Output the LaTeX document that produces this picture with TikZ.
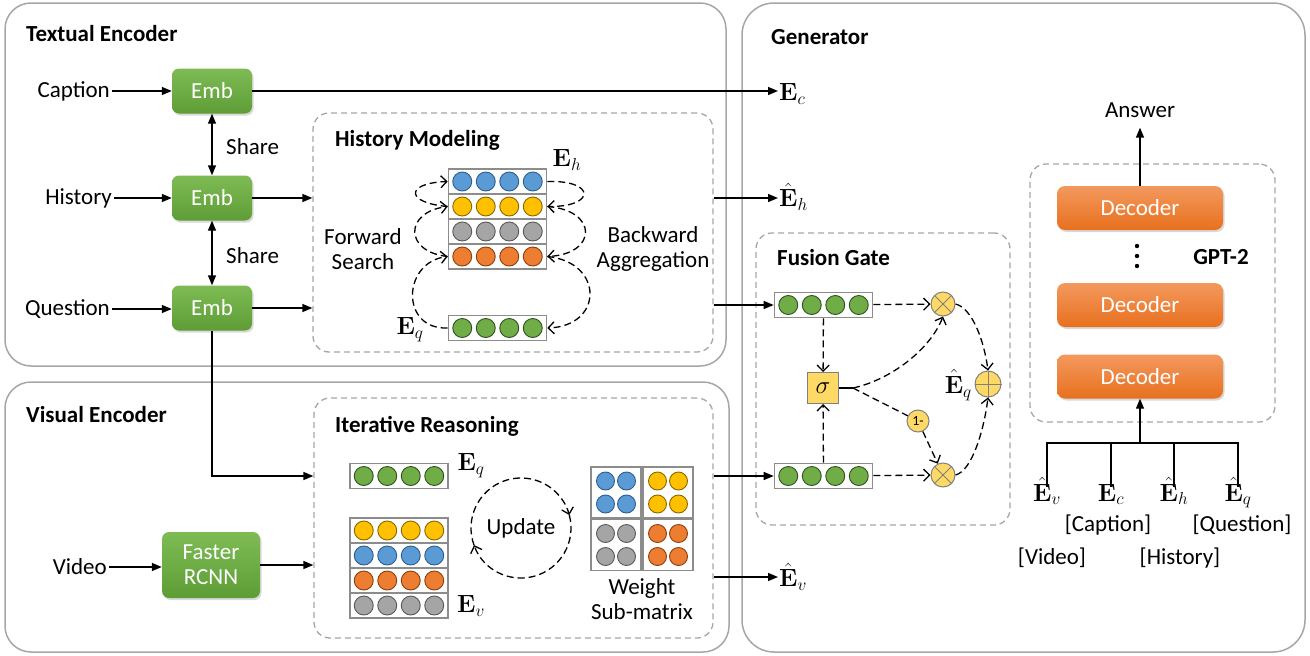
\documentclass[tikz,border=0pt]{standalone}
\usepackage[no-math]{fontspec}
\setmainfont{Carlito}
\usetikzlibrary{arrows.meta,shadows,calc}
\definecolor{pgray}{HTML}{A6A6A6}
\definecolor{rgray}{HTML}{8C8C8C}
\definecolor{embtop}{HTML}{7EBB55}
\definecolor{embbot}{HTML}{5E9D35}
\definecolor{dectop}{HTML}{F3995E}
\definecolor{decbot}{HTML}{E8701E}
\definecolor{bluef}{HTML}{5B9BD5}\definecolor{blued}{HTML}{2F5F8F}
\definecolor{yelf}{HTML}{FFC000}\definecolor{yeld}{HTML}{8A6A00}
\definecolor{gryf}{HTML}{A5A5A5}\definecolor{gryd}{HTML}{5A5A5A}
\definecolor{orgf}{HTML}{ED7D31}\definecolor{orgd}{HTML}{8E3F0E}
\definecolor{grnf}{HTML}{70AD47}\definecolor{grnd}{HTML}{2F5320}
\definecolor{gatef}{HTML}{FFD966}
\tikzset{
  txt/.style={font=\fontsize{23}{27}\selectfont, inner sep=2pt},
  ttl/.style={font=\fontsize{23}{27}\selectfont\bfseries, anchor=west, inner sep=0pt},
  mlab/.style={font=\fontsize{25}{28}\selectfont, inner sep=1pt},
  panel/.style={draw=pgray, line width=1.5pt, rounded corners=26pt},
  dbox/.style={draw=pgray, dash pattern=on 6pt off 4pt, line width=1.3pt, rounded corners=16pt},
  embbox/.style={rounded corners=7pt, top color=embtop, bottom color=embbot, draw=none, text=white,
    font=\fontsize{23}{26}\selectfont, align=center,
    drop shadow={opacity=0.3, shadow xshift=1.5pt, shadow yshift=-2pt}},
  decbox/.style={rounded corners=8pt, top color=dectop, bottom color=decbot, draw=none, text=white,
    font=\fontsize{23}{26}\selectfont, minimum width=166pt, minimum height=44pt,
    drop shadow={opacity=0.3, shadow xshift=1.5pt, shadow yshift=-2pt}},
  rowbox/.style={draw=rgray, line width=1.6pt, fill=white, minimum width=98pt, minimum height=25pt, inner sep=0pt},
  dot/.style={circle, minimum size=19pt, inner sep=0pt, line width=0.9pt},
  gcirc/.style={circle, fill=gatef, draw=gray, line width=1pt, inner sep=0pt},
  arr/.style={line width=1.4pt, -{Triangle[length=10pt,width=8pt]}},
  arrr/.style={line width=1.4pt, {Triangle[length=10pt,width=8pt]}-{Triangle[length=10pt,width=8pt]}},
  sline/.style={line width=1.4pt},
  dl/.style={line width=1.3pt, dash pattern=on 7pt off 4pt},
  darr/.style={dl, -{Straight Barb[length=6pt,width=12pt,line width=1.3pt]}},
}
\newcommand\vrow[4]{%
  \node[rowbox] (#1) at (#2,#3) {};
  \foreach \k/\n in {-1.5/a,-0.5/b,0.5/c,1.5/d}
    \node[dot, fill=#4f, draw=#4d] (#1\n) at ($(#1)+(\k*23.5,0)$) {};
}
\newcommand\wblock[4]{%
  \node[rowbox, minimum width=50pt, minimum height=51pt] (#1) at (#2,#3) {};
  \foreach \dx/\dy/\n in {-1/-1/a,1/-1/b,-1/1/c,1/1/d}
    \node[dot, minimum size=18pt, fill=#4f, draw=#4d] (#1\n) at ($(#1)+(\dx*10.5,\dy*11.5)$) {};
}
\begin{document}
\begin{tikzpicture}[x=1pt,y=-1pt]
\useasboundingbox (0,0) rectangle (1310,656);
% panels
\node[panel, minimum width=721pt, minimum height=363pt] (te) at (365.5,184.5) {};
\node[panel, minimum width=724pt, minimum height=270pt] (ve) at (367,517) {};
\node[panel, minimum width=563pt, minimum height=649pt, rounded corners=32pt] (ge) at (1023.5,327.5) {};
\node[ttl] (tte) at (26,34) {Textual Encoder};
\node[ttl] (tve) at (26,415) {Visual Encoder};
\node[ttl] (tge) at (771,37) {Generator};
% dashed sub-boxes
\node[dbox, minimum width=400pt, minimum height=239pt] (hm) at (513,232.5) {};
\node[dbox, minimum width=399pt, minimum height=240pt] (ir) at (513.5,518) {};
\node[dbox, minimum width=254pt, minimum height=292pt] (fg) at (883,379) {};
\node[dbox, minimum width=245pt, minimum height=258pt] (gpt) at (1152.5,293) {};
\node[ttl] (thm) at (335,140) {History Modeling};
\node[ttl] (tir) at (335,426) {Iterative Reasoning};
\node[ttl] (tfg) at (777,258) {Fusion Gate};
\node[ttl, anchor=center] (tgpt) at (1221,257) {GPT-2};
% textual encoder
\node[embbox, minimum width=80pt, minimum height=45pt] (emb1) at (212,91) {Emb};
\node[embbox, minimum width=80pt, minimum height=45pt] (emb2) at (212,198) {Emb};
\node[embbox, minimum width=80pt, minimum height=45pt] (emb3) at (212,308) {Emb};
\node[txt, anchor=east] (cap) at (112,91) {Caption};
\node[txt, anchor=east] (his) at (114,198) {History};
\node[txt, anchor=east] (que) at (112,309) {Question};
\draw[arr] (cap) -- (cap -| emb1.west);
\draw[arr] (his) -- (his -| emb2.west);
\draw[arr] (que) -- (que -| emb3.west);
\draw[arrr] (emb1) -- (emb2);
\draw[arrr] (emb2) -- (emb3);
\node[txt, anchor=west] (sh1) at (224,147) {Share};
\node[txt, anchor=west] (sh2) at (224,256) {Share};
% outputs
\node[mlab, anchor=west] (Ec) at (778,94) {$\mathbf{E}_c$};
\node[mlab, anchor=west] (Eh) at (778,197) {$\hat{\mathbf{E}}_h$};
\node[mlab, anchor=west] (Ev) at (778,577) {$\hat{\mathbf{E}}_v$};
\draw[arr] (emb1) -- (emb1 -| Ec.west);
\draw[arr] (emb2) -- (emb2 -| hm.west);
\draw[arr] (emb3) -- (emb3 -| hm.west);
\draw[arr] (hm.east |- emb2) -- (emb2 -| Eh.west);
% history modeling rows
\vrow{hb}{497.5}{181.5}{blue}
\vrow{hy}{497.5}{206.5}{yel}
\vrow{hg}{497.5}{231.5}{gry}
\vrow{ho}{497.5}{256.5}{org}
\vrow{hq}{497.5}{328}{grn}
\node[mlab] (lEh) at (567,160) {$\mathbf{E}_h$};
\node[mlab] (lEq) at (410,330) {$\mathbf{E}_q$};
\node[txt, align=center, font=\fontsize{23}{25}\selectfont] (fws) at (363,249) {Forward\\Search};
\node[txt, align=center, font=\fontsize{23}{25}\selectfont] (bwa) at (653,249) {Backward\\Aggregation};
\draw[darr] (hq.west) .. controls (400,330) and (402,262) .. (ho.west);
\draw[darr] (ho.west) .. controls (404,252) and (404,212) .. (hy.west);
\draw[darr] (hy.west) .. controls (405,203) and (405,183) .. (hb.west);
\draw[darr] (hb.east) .. controls (596,180) and (596,207) .. (hy.east);
\draw[darr] (hy.east) .. controls (598,210) and (598,254) .. (ho.east);
\draw[darr] (ho.east) .. controls (604,262) and (604,326) .. (hq.east);
% fusion gate
\vrow{ft}{823.5}{305}{grn}
\vrow{fb}{823.5}{476}{grn}
\node[draw=gray, line width=1pt, fill=gatef, minimum size=31pt, inner sep=0pt, font=\fontsize{24}{26}\selectfont] (sig) at (823,388) {$\sigma$};
\node[gcirc, minimum size=24pt] (ot1) at (943,304) {};
\node[gcirc, minimum size=24pt] (ot2) at (943,475) {};
\node[gcirc, minimum size=26pt] (op) at (988,384) {};
\node[gcirc, minimum size=22pt, font=\fontsize{14}{16}\selectfont] (one) at (918,421) {1-};
\draw[gray, line width=1pt] (ot1.45) -- (ot1.225) (ot1.135) -- (ot1.315);
\draw[gray, line width=1pt] (ot2.45) -- (ot2.225) (ot2.135) -- (ot2.315);
\draw[gray, line width=1pt] (op.north) -- (op.south) (op.east) -- (op.west);
\node[mlab, anchor=east] (lEq2) at (973,385) {$\hat{\mathbf{E}}_q$};
\draw[arr] (hm.east |- ft) -- (ft);
\draw[arr] (ir.east |- fb) -- (fb);
\draw[darr] (ft) -- (ot1);
\draw[darr] (fb) -- (ot2);
\draw[darr] (ft) -- (sig);
\draw[darr] (fb) -- (sig);
\draw[sline] (sig.east) -- ++(14,0) coordinate (sj);
\draw[darr] (sj) .. controls (890,380) and (930,350) .. (ot1.south);
\draw[dl] (sj) -- (one);
\draw[darr] (one) -- (ot2);
\draw[darr] (ot1.east) .. controls (972,308) and (984,340) .. (op.north);
\draw[darr] (ot2.east) .. controls (972,471) and (984,430) .. (op.south);
% visual encoder
\node[embbox, minimum width=98pt, minimum height=66pt, font=\fontsize{23}{25}\selectfont] (frc) at (211,565) {Faster\\RCNN};
\node[txt, anchor=east] (vid) at (109,567) {Video};
\draw[arr] (vid) -- (vid -| frc.west);
\draw[arr] (frc) -- (frc -| ir.west);
% iterative reasoning
\vrow{iq}{399}{476}{grn}
\vrow{v1}{399}{530.5}{yel}
\vrow{v2}{399}{555.5}{blue}
\vrow{v3}{399}{580.5}{org}
\vrow{v4}{399}{605.5}{gry}
\draw[arr] (emb3.south) |- (ir.west |- iq);
\node[mlab] (lEq3) at (471,466) {$\mathbf{E}_q$};
\node[mlab] (lEv) at (471,606) {$\mathbf{E}_v$};
\node[txt] (upd) at (521,528) {Update};
\draw[darr] (upd.center) ++(160:50) arc[start angle=160, end angle=345, radius=50];
\draw[darr] (upd.center) ++(345:50) arc[start angle=345, end angle=520, radius=50];
\wblock{wa}{616}{492.5}{blue}
\wblock{wb}{668}{492.5}{yel}
\wblock{wc}{616}{545}{gry}
\wblock{wd}{668}{545}{org}
\node[txt, align=center, font=\fontsize{23}{25}\selectfont] (wsm) at (642,599) {Weight\\Sub-matrix};
\draw[arr] (ir.east |- Ev) -- (Ev);
% generator
\node[decbox] (dec1) at (1140,208) {Decoder};
\node[decbox] (dec2) at (1140,305) {Decoder};
\node[decbox] (dec3) at (1140,376.5) {Decoder};
\fill (1137,246) circle (2.2pt) (1137,256) circle (2.2pt) (1137,266) circle (2.2pt);
\node[txt] (ans) at (1140,110) {Answer};
\draw[arr] (dec1.north) -- ([yshift=-8pt]ans.south);
\coordinate (bus) at (1140,443);
\draw[arr] (bus) -- (dec3.south);
\tikzset{glab/.style={mlab, anchor=base, text height=21pt, inner sep=1pt}}
\node[glab] (gv) at (1047,501) {$\hat{\mathbf{E}}_v$};
\node[glab] (gc) at (1111,501) {$\mathbf{E}_c$};
\node[glab] (gh) at (1174,501) {$\hat{\mathbf{E}}_h$};
\node[glab] (gq) at (1238,501) {$\hat{\mathbf{E}}_q$};
\coordinate (tv) at ([yshift=-8pt]gv.north);
\coordinate (tc) at ([yshift=-8pt]gc.north);
\coordinate (th) at ([yshift=-8pt]gh.north);
\coordinate (tq) at ([yshift=-8pt]gq.north);
\draw[sline] (tv) |- (bus) -| (tq);
\draw[sline] (tc) -- (tc |- bus);
\draw[sline] (th) -- (th |- bus);
\node[txt] (lcap) at (1108,525) {[Caption]};
\node[txt] (lque) at (1242,525) {[Question]};
\node[txt] (lvid) at (1052,558) {[Video]};
\node[txt] (lhis) at (1180,558) {[History]};
\end{tikzpicture}
\end{document}
